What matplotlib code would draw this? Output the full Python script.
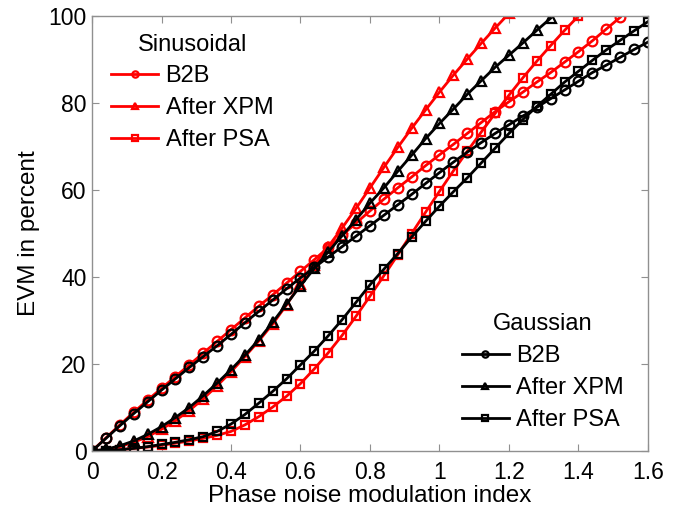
import numpy as np
import matplotlib
matplotlib.use("Agg")
import matplotlib.pyplot as plt

plt.rcParams['font.family'] = ['Liberation Sans', 'DejaVu Sans']

# phase noise modulation index grid (step 0.04)
mod_index = np.linspace(0, 1.6, 41)

# Sinusoidal phase noise (red)
sin_b2b = [0, 3.0, 6.0, 8.9, 11.7, 14.4, 17.1, 19.8, 22.5, 25.2, 27.9, 30.6, 33.3,
           35.9, 38.6, 41.3, 44.0, 46.8, 49.6, 52.4, 55.2, 57.9, 60.5, 63.0, 65.6,
           68.1, 70.5, 73.0, 75.5, 78.0, 80.3, 82.5, 84.8, 87.0, 89.4, 91.8, 94.3,
           97.0, 99.7]
sin_xpm = [0, 0.3, 1.0, 2.0, 3.3, 5.0, 7.0, 9.3, 12.0, 15.0, 18.2, 21.7, 25.3,
           29.2, 33.6, 38.5, 42.8, 47.0, 51.3, 55.8, 60.5, 65.2, 69.8, 74.2, 78.4,
           82.5, 86.4, 90.1, 93.7, 97.2, 100.6]
sin_psa = [0, 0.1, 0.3, 0.6, 0.9, 1.3, 1.8, 2.3, 2.9, 3.6, 4.5, 6.0, 7.9, 10.1,
           12.6, 15.5, 18.9, 22.6, 26.6, 31.0, 35.6, 40.3, 45.1, 50.0, 54.9, 59.7,
           64.4, 68.9, 73.3, 77.6, 81.8, 85.8, 89.6, 93.2, 96.7, 100.0]

# Gaussian phase noise (black)
gau_b2b = [0, 2.9, 5.8, 8.6, 11.3, 14.0, 16.6, 19.2, 21.7, 24.2, 26.8, 29.5, 32.1,
           34.7, 37.3, 39.8, 42.2, 44.6, 47.0, 49.4, 51.8, 54.2, 56.6, 59.0, 61.5,
           64.0, 66.4, 68.7, 70.9, 73.0, 75.0, 77.0, 79.0, 81.0, 83.0, 85.0, 87.0,
           88.7, 90.5, 92.3, 94.0]
gau_xpm = [0, 0.4, 1.2, 2.3, 3.8, 5.6, 7.7, 10.0, 12.7, 15.6, 18.7, 22.0, 25.6,
           29.6, 33.8, 38.0, 42.0, 45.8, 49.5, 53.2, 57.0, 60.5, 64.3, 68.0, 71.8,
           75.3, 78.6, 82.0, 85.1, 88.2, 91.0, 93.8, 96.7, 99.5]
gau_psa = [0, 0.1, 0.3, 0.6, 1.0, 1.5, 2.0, 2.6, 3.3, 4.5, 6.2, 8.4, 11.0, 13.7,
           16.6, 19.8, 23.0, 26.5, 30.2, 34.2, 38.2, 41.8, 45.4, 49.2, 52.8, 56.3,
           59.6, 62.8, 66.2, 69.6, 73.0, 76.2, 79.2, 82.0, 84.8, 87.3, 89.8, 92.2,
           94.4, 96.6, 98.7]

labels = ['B2B', 'After XPM', 'After PSA']
markers = ['o', '^', 's']
msizes = [7, 7, 5.8]

fig = plt.figure(figsize=(6.79, 5.08), dpi=100)
ax = fig.add_axes([0.1355, 0.1122, 0.8188, 0.8563])

style = dict(linewidth=2.0, markerfacecolor='none', markeredgewidth=1.6)

sin_lines = []
for y, mk, ms, lab in zip([sin_b2b, sin_xpm, sin_psa], markers, msizes, labels):
    ln, = ax.plot(mod_index[:len(y)], y, color='#ff0000', marker=mk, markersize=ms,
                  label=lab, **style)
    sin_lines.append(ln)

gau_lines = []
for y, mk, ms, lab in zip([gau_b2b, gau_xpm, gau_psa], markers, msizes, labels):
    ln, = ax.plot(mod_index[:len(y)], y, color='black', marker=mk, markersize=ms,
                  label=lab, **style)
    gau_lines.append(ln)

ax.set_xlim(0, 1.6)
ax.set_ylim(0, 100)
ax.set_xticks(np.arange(0, 1.61, 0.2))
ax.set_xticklabels(['0', '0.2', '0.4', '0.6', '0.8', '1', '1.2', '1.4', '1.6'])
ax.set_yticks([0, 20, 40, 60, 80, 100])

for sp in ax.spines.values():
    sp.set_color('#909090')
    sp.set_linewidth(1.0)
ax.tick_params(direction='in', top=True, right=True, color='#909090',
               labelsize=16.5, length=5)
ax.tick_params(axis='x', pad=7)
ax.tick_params(axis='y', pad=4)

ax.set_xlabel('Phase noise modulation index', fontsize=17.5, labelpad=1)
ax.set_ylabel('EVM in percent', fontsize=17.5, labelpad=6)

leg_kw = dict(frameon=False, fontsize=17, title_fontsize=17, handlelength=2.0,
              handletextpad=0.3, labelspacing=0.42, markerscale=0.65)
leg1 = ax.legend(handles=sin_lines, title='Sinusoidal', loc='upper left',
                 bbox_to_anchor=(0.007, 0.995), borderaxespad=0.25, **leg_kw)
ax.add_artist(leg1)
leg2 = ax.legend(handles=gau_lines, title='Gaussian', loc='lower right',
                 bbox_to_anchor=(0.986, 0.008), borderaxespad=0.3, **leg_kw)

fig.savefig('out.png', dpi=100)
